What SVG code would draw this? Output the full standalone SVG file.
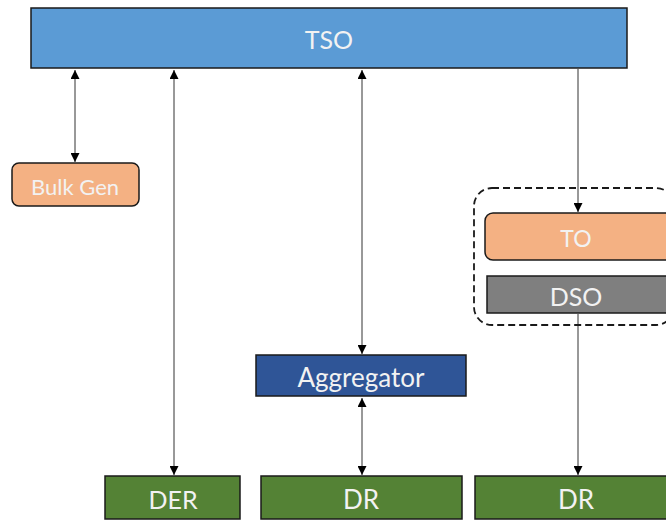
<svg xmlns="http://www.w3.org/2000/svg" width="666" height="522" viewBox="0 0 666 522">
<style>
.box{stroke:#1a1a1a;stroke-width:1.5}
.lbl{font-family:Lato,"Open Sans","Liberation Sans",sans-serif;fill:#f2f2f2;text-anchor:middle;dominant-baseline:central}
.con{stroke:#333;stroke-width:1;fill:none}
</style>
<defs>
<marker id="ah" viewBox="0 0 10 10" refX="10" refY="5" markerWidth="9" markerHeight="9" markerUnits="userSpaceOnUse" orient="auto-start-reverse">
<path d="M0,0 L10,5 L0,10 z" fill="#000"/>
</marker>
</defs>
<rect width="666" height="522" fill="#fff"/>
<g id="connectors">
<line class="con" x1="75" y1="70" x2="75" y2="162" marker-start="url(#ah)" marker-end="url(#ah)"/>
<line class="con" x1="174" y1="70" x2="174" y2="475" marker-start="url(#ah)" marker-end="url(#ah)"/>
<line class="con" x1="362" y1="70" x2="362" y2="354" marker-start="url(#ah)" marker-end="url(#ah)"/>
<line class="con" x1="362" y1="398" x2="362" y2="475" marker-start="url(#ah)" marker-end="url(#ah)"/>
<line class="con" x1="578" y1="69" x2="578" y2="212" marker-end="url(#ah)"/>
<line class="con" x1="578" y1="314" x2="578" y2="475" marker-end="url(#ah)"/>
</g>
<g id="group-dashed">
<rect x="474" y="188" width="200" height="137" rx="18" fill="none" stroke="#1a1a1a" stroke-width="1.8" stroke-dasharray="7,4"/>
</g>
<g id="tso">
<rect class="box" x="31" y="8" width="596" height="60" fill="#5b9bd5"/>
<text class="lbl" x="329" y="39" font-size="25">TSO</text>
</g>
<g id="bulkgen">
<rect class="box" x="12" y="163" width="127" height="43" rx="7" fill="#f4b183"/>
<text class="lbl" x="75" y="186" font-size="22">Bulk Gen</text>
</g>
<g id="to">
<rect class="box" x="485" y="213" width="190" height="47" rx="8" fill="#f4b183"/>
<text class="lbl" x="576" y="238" font-size="23">TO</text>
</g>
<g id="dso">
<rect class="box" x="487" y="276" width="190" height="37" fill="#7f7f7f"/>
<text class="lbl" x="576" y="296" font-size="25">DSO</text>
</g>
<g id="aggregator">
<rect class="box" x="256" y="355" width="210" height="41" fill="#2f5597"/>
<text class="lbl" x="361" y="377" font-size="26">Aggregator</text>
</g>
<g id="der">
<rect class="box" x="105" y="476" width="135" height="43" fill="#548235"/>
<text class="lbl" x="173" y="499" font-size="25">DER</text>
</g>
<g id="dr1">
<rect class="box" x="261" y="476" width="201" height="43" fill="#548235"/>
<text class="lbl" x="361" y="499" font-size="26">DR</text>
</g>
<g id="dr2">
<rect class="box" x="475" y="476" width="200" height="43" fill="#548235"/>
<text class="lbl" x="576" y="499" font-size="26">DR</text>
</g>
</svg>
